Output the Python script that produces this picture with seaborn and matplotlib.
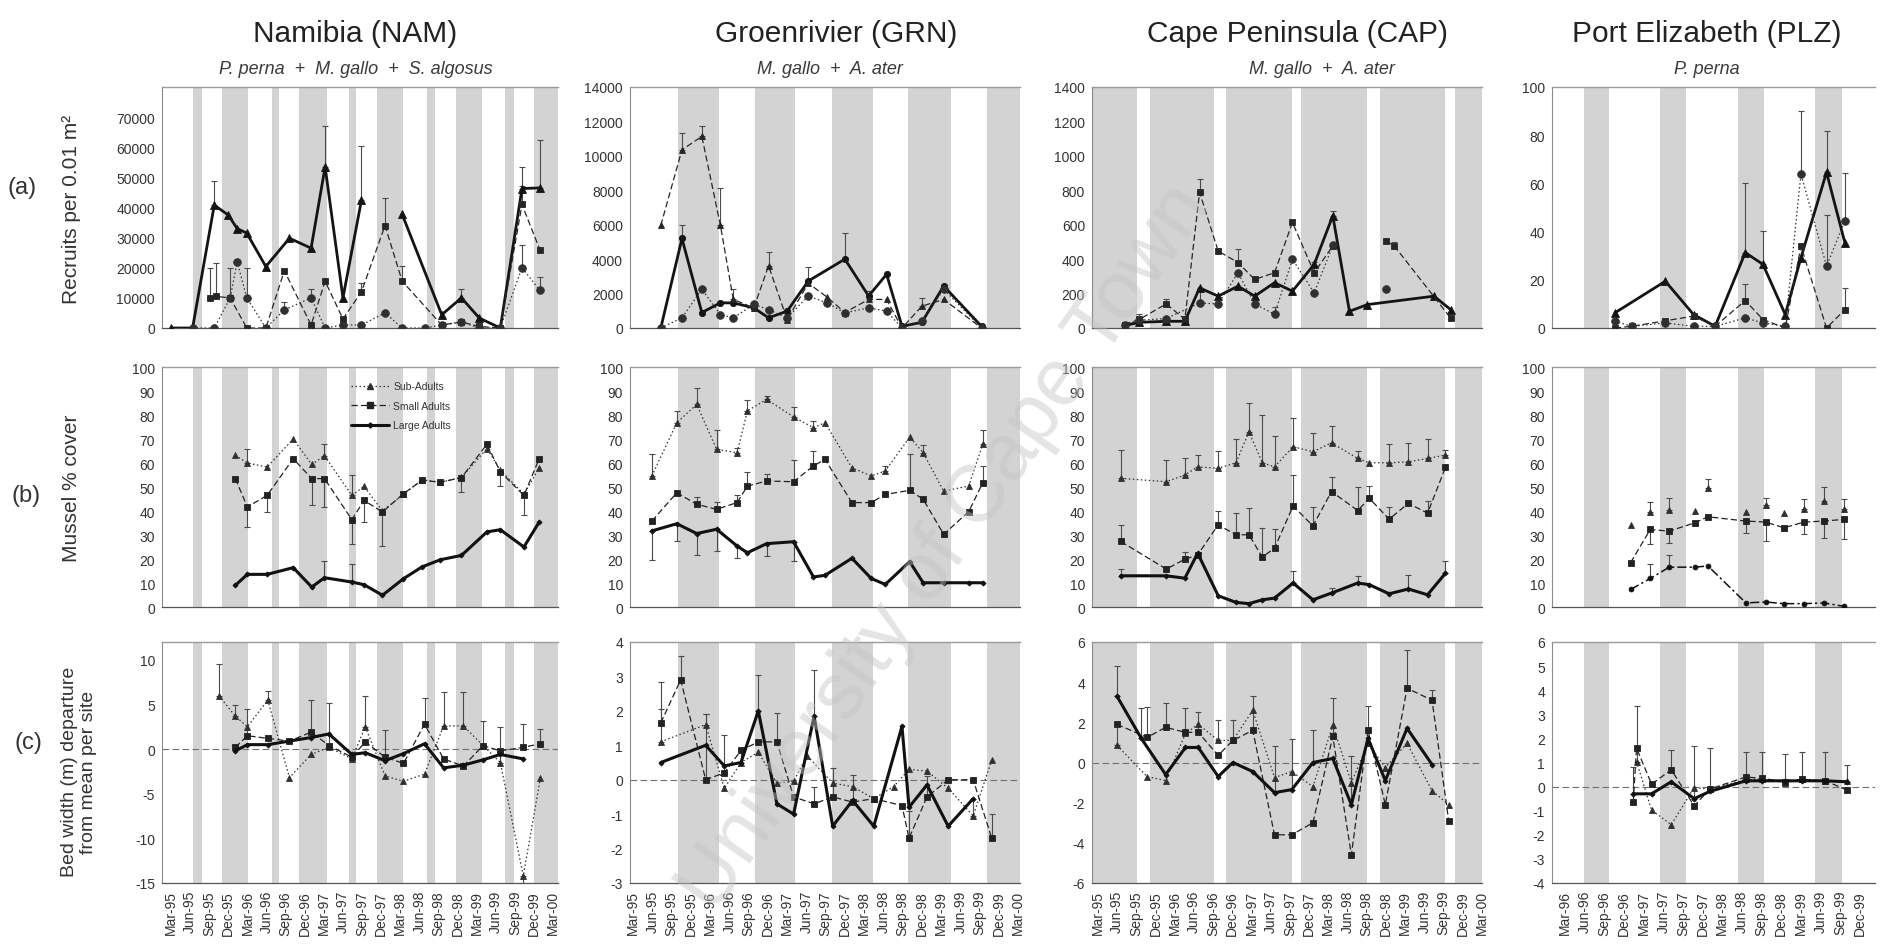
import numpy as np
import pandas as pd
import matplotlib
matplotlib.use("Agg")
import matplotlib.pyplot as plt
from matplotlib.lines import Line2D
import seaborn as sns

nan = np.nan

# ------------------------------------------------------------------ data
site_titles = ["Namibia (NAM)", "Groenrivier (GRN)", "Cape Peninsula (CAP)", "Port Elizabeth (PLZ)"]
site_species = ["P. perna  +  M. gallo  +  S. algosus", "M. gallo  +  A. ater",
                "M. gallo  +  A. ater", "P. perna"]
row_tags = ["(a)", "(b)", "(c)"]
row_titles = ["Recruits per 0.01 m²", "Mussel % cover", "Bed width (m) departure\nfrom mean per site"]
legend_labels = ["Sub-Adults", "Small Adults", "Large Adults"]

quarters_95 = ["Mar-95", "Jun-95", "Sep-95", "Dec-95", "Mar-96", "Jun-96", "Sep-96", "Dec-96",
               "Mar-97", "Jun-97", "Sep-97", "Dec-97", "Mar-98", "Jun-98", "Sep-98", "Dec-98",
               "Mar-99", "Jun-99", "Sep-99", "Dec-99", "Mar-00"]
quarters_96 = ["Mar-96", "Jun-96", "Sep-96", "Dec-96", "Mar-97", "Jun-97", "Sep-97", "Dec-97",
               "Mar-98", "Jun-98", "Sep-98", "Dec-98", "Mar-99", "Jun-99", "Sep-99", "Dec-99"]

# shaded seasons, months after first tick
nam_season_start = [3.5, 8.0, 15.9, 20.1, 27.9, 32.4, 40.2, 44.7, 52.5, 57.0]
nam_season_end = [4.9, 12.1, 16.9, 24.5, 29.1, 36.5, 41.4, 48.9, 53.9, 62.0]
grn_season_start = [7.0, 19.0, 31.0, 42.9, 55.2]
grn_season_end = [13.3, 25.3, 37.4, 49.5, 62.0]
cap_season_start = [-2.0, 8.1, 20.0, 31.8, 44.1, 55.8]
cap_season_end = [6.1, 18.2, 30.3, 42.0, 54.3, 62.0]
plz_season_start = [2.9, 14.5, 26.4, 38.1]
plz_season_end = [6.7, 18.5, 30.3, 42.3]

# ---- (a) recruits: three recruit series per site (months, value, error)
nam_rec1_m = [0, 3.4, 6.8, 9.0, 10.4, 11.9, 14.9, 18.6, 22.0, 24.2, 27.0, 29.9, 33.0, 36.3, 42.5, 45.6, 48.4, 51.7, 55.1, 57.9]
nam_rec1_v = [0, 0, 40800, 37500, 33000, 31500, 20400, 29800, 26500, 53500, 10000, 42400, nan, 37700, 4400, 10000, 3300, 0, 46300, 46500]
nam_rec1_e = [0, 0, 8000, 0, 0, 0, 0, 0, 0, 13500, 0, 18000, 0, 0, 0, 3000, 0, 0, 7000, 16000]
nam_rec2_m = [6.2, 7.0, 9.3, 11.9, 14.9, 17.8, 22.0, 24.2, 27.0, 29.9, 33.6, 36.3, 42.5, 45.6, 48.4, 51.7, 55.1, 57.9]
nam_rec2_v = [10000, 10500, 10000, 0, 0, 19000, 1000, 15500, 3000, 12000, 34000, 15500, 1000, 2000, 500, 0, 41000, 26000]
nam_rec2_e = [10000, 11000, 10000, 0, 0, 0, 0, 0, 0, 3000, 9000, 5000, 0, 0, 0, 0, 6000, 0]
nam_rec3_m = [3.4, 6.8, 9.3, 10.4, 11.9, 14.9, 17.8, 22.0, 24.2, 27.0, 29.9, 33.6, 36.3, 39.9, 42.5, 45.6, 48.4, 51.7, 55.1, 57.9]
nam_rec3_v = [0, 0, 10000, 22000, 10000, 0, 6000, 10000, 0, 1000, 1000, 5000, 0, 0, 1000, 2000, 0, 0, 20000, 12500]
nam_rec3_e = [0, 0, 0, 0, 10000, 0, 2500, 3000, 0, 0, 0, 0, 0, 0, 0, 0, 0, 0, 7500, 4500]

grn_rec1_m = [4.3, 7.6, 10.7, 13.6, 15.6, 18.8, 21.1, 24.0, 27.3, 33.0, 36.7, 39.5, 41.9, 45.0, 48.4, 54.3]
grn_rec1_v = [0, 5200, 900, 1460, 1460, 1170, 590, 980, 2730, 4000, 1860, 3120, 100, 330, 2440, 100]
grn_rec1_e = [0, 800, 0, 0, 0, 0, 0, 0, 800, 1500, 0, 0, 0, 0, 0, 0]
grn_rec2_m = [4.3, 7.6, 10.7, 13.6, 15.6, 18.8, 21.1, 24.0, 27.3, 30.2, 33.0, 36.7, 39.5, 41.9, 45.0, 48.4, 54.3]
grn_rec2_v = [5960, 10350, 11130, 5960, 1660, 1170, 3610, 490, 2600, 1800, 900, 1660, 1660, 0, 1270, 1660, 0]
grn_rec2_e = [0, 1000, 600, 2200, 600, 0, 800, 0, 0, 0, 0, 500, 0, 0, 500, 0, 0]
grn_rec3_m = [4.3, 7.6, 10.7, 13.6, 15.6, 18.8, 21.1, 24.0, 27.3, 30.2, 33.0, 36.7, 39.5, 41.9, 45.0, 48.4, 54.3]
grn_rec3_v = [0, 590, 2250, 780, 590, 1370, 1070, 590, 1860, 1460, 880, 1170, 980, 0, 390, 2250, 0]
grn_rec3_e = [0] * 17

cap_rec1_m = [4.2, 6.5, 10.7, 13.6, 15.9, 18.8, 21.9, 24.5, 27.6, 30.4, 33.8, 36.7, 39.3, 42.1, 52.5, 55.1]
cap_rec1_v = [14, 33, 39, 39, 233, 185, 243, 185, 263, 214, 370, 652, 97, 136, 185, 107]
cap_rec1_e = [0, 20, 0, 20, 0, 0, 0, 0, 0, 0, 0, 30, 0, 0, 0, 0]
cap_rec2_m = [4.2, 6.5, 10.7, 13.6, 15.9, 18.8, 21.9, 24.5, 27.6, 30.4, 33.8, 36.7, 40.0, 45.0, 46.3, 55.1]
cap_rec2_v = [20, 50, 140, 50, 788, 447, 380, 282, 321, 613, 321, 477, nan, 506, 477, 58]
cap_rec2_e = [0, 30, 30, 0, 80, 0, 80, 0, 0, 0, 60, 0, 0, 0, 20, 0]
cap_rec3_m = [4.2, 6.5, 10.7, 15.9, 18.8, 21.9, 24.5, 27.6, 30.4, 33.8, 36.7, 40.0, 45.0]
cap_rec3_v = [20, 45, 55, 145, 140, 321, 140, 80, 399, 204, 480, nan, 224]
cap_rec3_e = [0, 0, 0, 90, 0, 0, 0, 40, 0, 0, 0, 0, 0]

plz_rec1_m = [7.6, 15.3, 19.6, 22.9, 27.5, 30.2, 33.6, 36.0, 39.9, 42.7]
plz_rec1_v = [6.3, 19.4, 5.6, 0.7, 31.3, 26.4, 5.6, 29.2, 64.6, 35.4]
plz_rec1_e = [0, 0, 0, 0, 29, 14, 0, 0, 17, 0]
plz_rec2_m = [7.6, 10.2, 15.3, 19.6, 22.9, 27.5, 30.2, 33.6, 36.0, 39.9, 42.7]
plz_rec2_v = [0, 0.7, 3.0, 4.9, 0.7, 11.4, 3.5, 0, 34, 0, 7.6]
plz_rec2_e = [0, 0, 0, 0, 0, 7, 0, 0, 0, 0, 9]
plz_rec3_m = [7.6, 10.2, 15.3, 19.6, 22.9, 27.5, 30.2, 33.6, 36.0, 39.9, 42.7]
plz_rec3_v = [2.8, 0.7, 2.1, 0.7, 0.7, 4.2, 2.1, 0.7, 63.9, 25.7, 44.4]
plz_rec3_e = [0, 0, 0, 0, 0, 0, 0, 0, 26, 21, 20]

# ---- (b) mussel % cover
nam_cov_m = [10.1, 12.0, 15.1, 19.2, 22.1, 24.1, 28.4, 30.3, 33.2, 36.5, 39.4, 42.3, 45.6, 49.6, 51.7, 55.4, 57.8]
nam_cov_sub = [63.2, 60, 58.3, 70, 59.4, 63, 46.5, 50.3, 40, 47, 53, 52, 54, 66, 57, 47, 58]
nam_cov_small = [53.5, 41.7, 46.5, 61.8, 53.5, 53.5, 36.4, 44.4, 39.6, 47.2, 52.8, 52, 53.9, 67.8, 56.3, 46.5, 61.8]
nam_cov_large = [9, 13.6, 13.6, 16.4, 8.3, 12.2, 10.4, 9.3, 4.9, 11.8, 16.7, 19.7, 21.5, 31.3, 32.2, 25, 35.4]
nam_cov_sub_e = [0, 6, 0, 0, 0, 5, 8.5, 0, 0, 0, 0, 0, 0, 0, 0, 0, 0]
nam_cov_small_e = [0, -8.5, -7, 0, -11, -12, -10, -9, -14, 0, 0, 0, -6, 0, -6, -8, 0]
nam_cov_large_e = [0, 0, 0, 0, 0, 7, 7.5, 0, 0, 0, 0, 0, 0, 0, 0, 0, 0]

grn_cov_m = [2.9, 6.8, 9.9, 13.0, 16.2, 17.8, 20.8, 25.0, 28.1, 29.9, 34.1, 37.1, 39.3, 43.1, 45.2, 48.4, 52.3, 54.5]
grn_cov_sub = [54.6, 76.8, 84.4, 65.7, 64.3, 81.7, 86.5, 79.2, 74.7, 76.8, 58, 54.6, 56.7, 70.8, 64.3, 48.3, 50.4, 67.8]
grn_cov_small = [35.8, 47.6, 42.8, 40.7, 43.5, 50.4, 52.5, 52.2, 58.8, 61.5, 43.5, 43.5, 46.9, 48.6, 44.9, 30.3, 39.7, 51.8]
grn_cov_large = [31.7, 34.7, 30.6, 32.4, 25.4, 22.6, 26.4, 27.2, 12.5, 13.2, 20.3, 11.9, 9.4, 18.9, 10.1, 10.1, 10.1, 10.1]
grn_cov_sub_e = [9, 5, 7, 8, 2, 4.5, 1.5, 4, 3, 0, 0, 0, 2, 0, 3, 0, 0, 6]
grn_cov_small_e = [0, 0, 3, 3, 3, 6, 3, 9, 6, 0, 0, 0, 0, 15, 0, 0, 0, 7]
grn_cov_large_e = [-12, -7, -9, -9, -5, 0, -5, -8, 0, 0, 0, 0, 0, 0, 0, 0, 0, 0]

cap_cov_m = [3.6, 10.7, 13.6, 15.6, 18.8, 21.6, 23.6, 25.7, 27.6, 30.5, 33.6, 36.5, 40.6, 42.4, 45.5, 48.5, 51.5, 54.3]
cap_cov_sub = [53.6, 52.2, 55, 58.4, 57.8, 60.1, 73, 60.1, 58.4, 66.8, 64.7, 68.4, 61.9, 60.1, 60.1, 60.5, 61.9, 63.3]
cap_cov_small = [27.3, 15.8, 19.9, 21.7, 34.2, 30.1, 30.1, 20.8, 24.5, 42.1, 33.8, 48.1, 40.2, 45.3, 36.6, 43.2, 39.1, 58.2]
cap_cov_large = [13, 13, 12, 22.4, 4.7, 1.9, 1.4, 3, 3.7, 10, 3, 5.8, 10, 9.3, 5.5, 7.5, 5.1, 14.1]
cap_cov_sub_e = [12, 9, 7, 5, 7, 10, 12, 20, 13, 12, 8, 7, 3, 0, 8, 8, 8, 2]
cap_cov_small_e = [7, 0, 3, 0, 6, 9, 11, 12, 8, 13, 8, 6, 10, 5, 5, 0, 5, 0]
cap_cov_large_e = [3, 0, 0, 0, 0, 0, 0, 0, 0, 5, 0, 2, 3, 0, 0, 6, 0, 5]

plz_cov_m = [10.0, 13.0, 15.9, 19.8, 21.8, 27.6, 30.6, 33.4, 36.5, 39.5, 42.5]
plz_cov_sub = [34, 39.6, 40.4, 40, 49.4, 39.6, 42.4, 39, 41, 44.2, 41]
plz_cov_small = [18.5, 32.3, 31.6, 35.1, 37.6, 35.8, 35.4, 33, 35.4, 35.8, 36.5]
plz_cov_large = [7.3, 11.9, 16.6, 16.6, 17.1, 1.7, 2.1, 1.4, 1.4, 1.7, 0.3]
plz_cov_sub_e = [0, 4, 5, 0, 4, 0, 3, 0, 4, 6, 4]
plz_cov_small_e = [0, -6, -5, 0, 0, -5, -8, 0, -5, -7, -8]
plz_cov_large_e = [0, 6, 5, 0, 0, 0, 0, 0, 0, 0, 0]

# ---- (c) bed width departure from mean
nam_bed_m = [7.5, 10.1, 12.0, 15.2, 18.6, 22.0, 24.8, 28.4, 30.5, 33.6, 36.5, 39.8, 42.8, 45.9, 49.0, 51.7, 55.3, 58.0]
nam_bed_sub = [6.0, 3.7, 2.5, 5.5, -3.2, -0.6, 0.2, -1.1, 2.5, -3.0, -3.6, -2.8, 2.6, 2.6, 0.4, -1.5, -14.2, -3.2]
nam_bed_small = [nan, 0.2, 1.5, 1.2, 0.9, 1.9, 0.4, -0.9, 0.8, -0.9, -1.6, 2.8, -1.1, -1.9, 0.4, -0.2, 0.2, 0.6]
nam_bed_large = [nan, -0.2, 0.5, 0.5, 0.9, 1.3, 1.7, -0.6, -0.4, -1.3, -0.5, 0.6, -2.1, -1.8, -1.2, -0.6, -1.1, nan]
nam_bed_sub_e = [3.5, 1.2, 0, 1.0, 0, 0, 0, 0, 3.4, 0, 0, 0, 3.8, 3.8, 0, 4.0, -0.8, 0]
nam_bed_small_e = [0, 0, 3.0, 0, 0, 3.6, 4.8, 0, 0, 3.0, 0, 2.9, 0, 0, 2.8, 0, 2.6, 1.7]
nam_bed_large_e = [0] * 18

grn_bed_m = [4.3, 7.4, 11.3, 14.2, 16.8, 19.5, 22.4, 25.0, 27.1, 28.2, 31.1, 34.2, 37.5, 40.6, 41.9, 43.0, 45.8, 49.1, 53.0, 55.9]
grn_bed_sub = [1.1, nan, 1.6, -0.25, 0.5, 0.8, -0.1, -0.05, 0.7, nan, -0.1, -0.2, -0.55, -0.2, nan, 0.3, 0.25, -0.25, -1.05, 0.57]
grn_bed_small = [1.65, 2.9, 0.0, 0.2, 0.85, 1.1, 1.1, -0.5, nan, -0.7, -0.5, -0.65, -0.55, nan, -0.75, -1.7, -0.5, 0.0, 0.0, -1.7]
grn_bed_large = [0.5, nan, 1.0, 0.4, 0.5, 2.0, -0.7, -1.0, nan, 1.85, -1.35, -0.6, -1.35, nan, 1.55, -0.8, -0.15, -1.35, -0.55, nan]
grn_bed_sub_e = [0.95, 0, 0.3, 0, 0.4, 0, 0, 0, 0, 0, 0, 0, 0, 0, 0, 0, 0, 0, 0, 0]
grn_bed_small_e = [1.2, 0.7, 1.9, 1.1, 0, 0, 0.85, 0, 0, 0.5, 0.85, 0.8, 0, 0, 0, 0.8, 0.6, 0, 0, 0.7]
grn_bed_large_e = [0, 0, 0, 0, 0, 1.05, 0, 0, 0, 1.35, 0, 0, 0, 0, 0, 0, 0, 0, -0.5, 0]

cap_bed_m = [3.0, 6.8, 7.7, 10.6, 13.7, 15.7, 18.8, 21.1, 24.2, 27.6, 30.3, 33.6, 36.7, 39.6, 42.2, 44.9, 48.3, 52.2, 54.8]
cap_bed_sub = [0.85, nan, -0.7, -0.9, 1.45, 1.9, 1.1, 1.1, 2.6, -0.75, -0.45, -1.2, 1.85, -1.0, 0.95, -0.25, 0.95, -1.4, -2.1]
cap_bed_small = [1.9, nan, 1.25, 1.75, 1.5, 1.5, 0.35, 1.1, 1.6, -3.6, -3.6, -3.0, 1.3, -4.6, 1.6, -2.1, 3.7, 3.1, -2.9]
cap_bed_large = [3.3, 1.2, nan, -0.6, 0.75, 0.75, -0.7, 0.0, -0.45, -1.5, -1.35, 0.0, 0.2, -2.1, 1.2, -0.9, 1.7, -0.1, nan]
cap_bed_sub_e = [1.0, 0, 0, 0, 0, 0, 1.0, 0, 0, 0, 0, 0, 0, 0, 0, 0, 0, 0, 0]
cap_bed_small_e = [0, 0, 1.5, 1.2, 1.2, 1.0, 0, 1.0, 1.7, 0, 0, 0, 1.9, 0, 1.2, 0, 1.9, 0.5, 0]
cap_bed_large_e = [1.5, 1.5, 0, 0, 0, 0, 0, 0, 0, 2.3, 2.5, 1.6, 0, 2.4, 0, 0, 0, 0, 0]

plz_bed_m = [10.4, 10.9, 13.2, 16.2, 19.7, 22.1, 27.6, 30.1, 33.6, 36.1, 39.7, 43.0]
plz_bed_sub = [nan, 1.04, -0.98, -1.58, -0.04, -0.1, 0.3, 0.3, 0.17, 0.3, 0.24, 0.24]
plz_bed_small = [-0.64, 1.6, 0.1, 0.7, -0.8, -0.1, 0.4, 0.34, 0.2, 0.3, 0.24, -0.14]
plz_bed_large = [-0.3, nan, -0.3, 0.2, -0.5, -0.2, 0.24, 0.24, 0.24, 0.24, 0.24, 0.2]
plz_bed_sub_e = [0, 2.3, 0, 0, 0, 0, 0, 0, 0, 0, 0, 0]
plz_bed_small_e = [0, 0, 0, 0.8, 0, 0, 0, 0, 0, 0, 0, 0]
plz_bed_large_e = [1.1, 0, 0, 0, 2.2, 1.8, 1.2, 1.2, 1.1, 1.2, 1.2, 0.7]

# axis scales
rec_ylim = [(0, 80000), (0, 14000), (0, 1400), (0, 100)]
rec_yticks = [list(range(0, 70001, 10000)), list(range(0, 14001, 2000)),
              list(range(0, 1401, 200)), list(range(0, 101, 20))]
cov_yticks = list(range(0, 101, 10))
bed_ylim = [(-15, 12), (-3, 4), (-6, 6), (-4, 6)]
bed_yticks = [[-15, -10, -5, 0, 5, 10], list(range(-3, 5)), list(range(-6, 7, 2)), list(range(-4, 7))]

# ------------------------------------------------------------------ layout / style
W, H = 1881, 945
COL_PX = [(162, 558), (630, 1020), (1092, 1482), (1552, 1875)]
ROW_PX = [(88, 329), (368, 608), (643, 884)]
XLIMS = [(-1.4, 60.75), (-0.5, 60.3), (-0.9, 59.8), (-2.0, 47.3)]
BAND = "#d3d3d3"
TXT = "#333333"

sns.set_theme(style="white")
plt.rcParams["font.family"] = ["Liberation Sans", "DejaVu Sans"]

REC_STYLE = [
    dict(color="#141414", linewidth=2.0, linestyle="-", marker="^", markersize=5.5),
    dict(color="#262626", linewidth=0.9, linestyle=(0, (5, 2.5)), marker="s", markersize=5),
    dict(color="#303030", linewidth=0.9, linestyle=(0, (1.2, 2.0)), marker="o", markersize=5.5),
]
# Groenrivier recruits: thick line with round marks, dashed line with triangles
GRN_REC_STYLE = [
    dict(REC_STYLE[0], marker="o", markersize=4.5),
    dict(REC_STYLE[1], marker="^", markersize=5),
    dict(REC_STYLE[2], marker="o", markersize=5.5),
]
SIZE_STYLE = [
    dict(color="#303030", linewidth=0.9, linestyle=(0, (1.2, 2.0)), marker="^", markersize=5),
    dict(color="#222222", linewidth=0.9, linestyle=(0, (5, 2.5)), marker="s", markersize=5),
    dict(color="#111111", linewidth=2.2, linestyle="-", marker="D", markersize=2.6),
]
# Port Elizabeth cover panel is drawn lighter in the original
PLZ_COVER_STYLE = [
    dict(SIZE_STYLE[0], linestyle="none"),
    SIZE_STYLE[1],
    dict(SIZE_STYLE[2], linewidth=1.1, linestyle=(0, (6, 2, 1.5, 2)), marker="o", markersize=3.5),
]

fig = plt.figure(figsize=(W / 100, H / 100), dpi=100)
fig.patch.set_facecolor("white")


def make_ax(c, r):
    x0, x1 = COL_PX[c]
    y0, y1 = ROW_PX[r]
    return fig.add_axes([x0 / W, 1 - y1 / H, (x1 - x0) / W, (y1 - y0) / H])


def draw_series(ax, months, values, errs, style, break_on_nan=False):
    df = pd.DataFrame({"month": months, "value": values, "err": errs})
    df["seg"] = df["value"].isna().cumsum() if break_on_nan else 0
    df = df.dropna(subset=["value"])
    sns.lineplot(data=df, x="month", y="value", units="seg", estimator=None, sort=False,
                 ax=ax, legend=False, markeredgecolor=style["color"], markeredgewidth=0.6,
                 zorder=3, **style)
    up = df[df["err"] > 0]
    dn = df[df["err"] < 0]
    ekw = dict(fmt="none", ecolor="#4a4a4a", elinewidth=0.8, capsize=2.5, capthick=0.8, zorder=2)
    if len(up):
        ax.errorbar(up["month"], up["value"], yerr=[np.zeros(len(up)), up["err"].values], **ekw)
    if len(dn):
        ax.errorbar(dn["month"], dn["value"], yerr=[-dn["err"].values, np.zeros(len(dn))], **ekw)


def style_ax(ax, c, ylim, yticks, bottom_row):
    starts = [nam_season_start, grn_season_start, cap_season_start, plz_season_start][c]
    ends = [nam_season_end, grn_season_end, cap_season_end, plz_season_end][c]
    for s, e in zip(starts, ends):
        ax.axvspan(s, e, color=BAND, lw=0, zorder=0)
    ax.set_xlim(*XLIMS[c])
    ax.set_ylim(*ylim)
    ax.set_yticks(yticks)
    ax.set_yticklabels([f"{t:g}" for t in yticks])
    labels = quarters_96 if c == 3 else quarters_95
    ax.set_xticks(np.arange(len(labels)) * 3)
    if bottom_row:
        ax.set_xticklabels(labels, rotation=90)
    else:
        ax.set_xticklabels([])
    ax.set_xlabel("")
    ax.set_ylabel("")
    ax.grid(False)
    ax.set_facecolor("white")
    ax.tick_params(axis="both", which="major", direction="out", length=3, width=0.7,
                   color="#777777", labelcolor=TXT, pad=2)
    ax.tick_params(axis="y", labelsize=10)
    ax.tick_params(axis="x", labelsize=10)
    ax.spines["right"].set_visible(False)
    ax.spines["top"].set_color("#9a9a9a")
    ax.spines["top"].set_linewidth(1.0)
    ax.spines["left"].set_color("#8a8a8a")
    ax.spines["left"].set_linewidth(0.8)
    ax.spines["bottom"].set_color("#555555")
    ax.spines["bottom"].set_linewidth(0.9)


rec_sets = [
    [(nam_rec1_m, nam_rec1_v, nam_rec1_e), (nam_rec2_m, nam_rec2_v, nam_rec2_e), (nam_rec3_m, nam_rec3_v, nam_rec3_e)],
    [(grn_rec1_m, grn_rec1_v, grn_rec1_e), (grn_rec2_m, grn_rec2_v, grn_rec2_e), (grn_rec3_m, grn_rec3_v, grn_rec3_e)],
    [(cap_rec1_m, cap_rec1_v, cap_rec1_e), (cap_rec2_m, cap_rec2_v, cap_rec2_e), (cap_rec3_m, cap_rec3_v, cap_rec3_e)],
    [(plz_rec1_m, plz_rec1_v, plz_rec1_e), (plz_rec2_m, plz_rec2_v, plz_rec2_e), (plz_rec3_m, plz_rec3_v, plz_rec3_e)],
]
cov_sets = [
    (nam_cov_m, [nam_cov_sub, nam_cov_small, nam_cov_large], [nam_cov_sub_e, nam_cov_small_e, nam_cov_large_e]),
    (grn_cov_m, [grn_cov_sub, grn_cov_small, grn_cov_large], [grn_cov_sub_e, grn_cov_small_e, grn_cov_large_e]),
    (cap_cov_m, [cap_cov_sub, cap_cov_small, cap_cov_large], [cap_cov_sub_e, cap_cov_small_e, cap_cov_large_e]),
    (plz_cov_m, [plz_cov_sub, plz_cov_small, plz_cov_large], [plz_cov_sub_e, plz_cov_small_e, plz_cov_large_e]),
]
bed_sets = [
    (nam_bed_m, [nam_bed_sub, nam_bed_small, nam_bed_large], [nam_bed_sub_e, nam_bed_small_e, nam_bed_large_e]),
    (grn_bed_m, [grn_bed_sub, grn_bed_small, grn_bed_large], [grn_bed_sub_e, grn_bed_small_e, grn_bed_large_e]),
    (cap_bed_m, [cap_bed_sub, cap_bed_small, cap_bed_large], [cap_bed_sub_e, cap_bed_small_e, cap_bed_large_e]),
    (plz_bed_m, [plz_bed_sub, plz_bed_small, plz_bed_large], [plz_bed_sub_e, plz_bed_small_e, plz_bed_large_e]),
]

for c in range(4):
    # (a)
    ax = make_ax(c, 0)
    rstyles = GRN_REC_STYLE if c == 1 else REC_STYLE
    for (m, v, e), st in zip(rec_sets[c], rstyles):
        draw_series(ax, m, v, e, st, break_on_nan=True)
    style_ax(ax, c, rec_ylim[c], rec_yticks[c], False)
    # (b)
    ax = make_ax(c, 1)
    m, vals, errs = cov_sets[c]
    styles = PLZ_COVER_STYLE if c == 3 else SIZE_STYLE
    for v, e, st in zip(vals, errs, styles):
        draw_series(ax, m, v, e, st)
    style_ax(ax, c, (0, 100), cov_yticks, False)
    if c == 0:
        handles = [Line2D([], [], markeredgecolor=st["color"], **st) for st in SIZE_STYLE]
        leg = ax.legend(handles, legend_labels, loc="upper left", bbox_to_anchor=(0.46, 0.97),
                        frameon=False, fontsize=7.5, handlelength=3.6, labelspacing=0.9,
                        borderpad=0.2, handletextpad=0.4)
        for t in leg.get_texts():
            t.set_color(TXT)
    # (c)
    ax = make_ax(c, 2)
    ax.axhline(0, color="#707070", lw=0.8, ls=(0, (6, 3)), zorder=1)
    m, vals, errs = bed_sets[c]
    for v, e, st in zip(vals, errs, SIZE_STYLE):
        draw_series(ax, m, v, e, st)
    style_ax(ax, c, bed_ylim[c], bed_yticks[c], True)

# titles
title_x = [355, 836, 1298, 1707]
sub_x = [356, 830, 1322, 1707]
for c in range(4):
    fig.text(title_x[c] / W, 1 - 34 / H, site_titles[c], ha="center", va="center",
             fontsize=21.5, color="#222222")
    fig.text(sub_x[c] / W, 1 - 70 / H, site_species[c], ha="center", va="center",
             fontsize=13, style="italic", color="#3a3a3a")

# row labels
tag_pos = [(22, 188), (26, 496), (28, 743)]
lab_pos = [(72, 209), (72, 488), (79, 772)]
for r in range(3):
    fig.text(tag_pos[r][0] / W, 1 - tag_pos[r][1] / H, row_tags[r], ha="center", va="center",
             fontsize=17, color=TXT)
    fig.text(lab_pos[r][0] / W, 1 - lab_pos[r][1] / H, row_titles[r], ha="center", va="center",
             rotation=90, fontsize=15 if r < 2 else 14, color=TXT, linespacing=1.15,
             multialignment="center")

# scanned-thesis watermark
fig.text(945 / W, 1 - 548 / H, "University of Cape Town", ha="center", va="center",
         rotation=55, fontsize=58, color="#c4c4c4", alpha=0.45, zorder=20)

fig.savefig("out.png", dpi=100, facecolor="white")
